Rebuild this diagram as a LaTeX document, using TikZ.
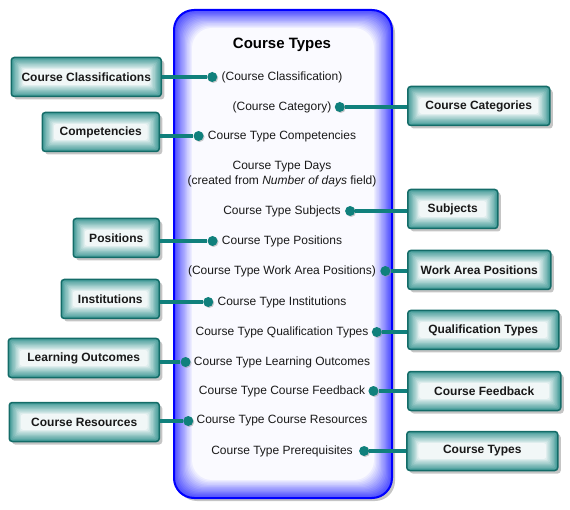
\documentclass[tikz,border=0pt]{standalone}
\usepackage{fontspec}
\setmainfont{Liberation Sans}
\usetikzlibrary{positioning, shadows}
\definecolor{tealc}{RGB}{16,128,124}
\definecolor{tealdark}{RGB}{20,108,104}
\tikzstyle{bigbox} = [rectangle, rounded corners=20pt, draw=blue, line width=2pt, fill=white, minimum width=218pt, minimum height=488pt, drop shadow={shadow xshift=3pt, shadow yshift=-3pt, fill=black!45, opacity=0.5}, path picture={\foreach \k in {0,...,15}{\pgfmathtruncatemacro\lvl{70-4.5*\k}\fill[blue!\lvl!white, rounded corners=20pt] ([shift={(\k*1.2pt,-\k*1.2pt)}]path picture bounding box.north west) rectangle ([shift={(-\k*1.2pt,\k*1.2pt)}]path picture bounding box.south east);}}]
\tikzstyle{tealbox} = [rectangle, rounded corners=3pt, draw=tealdark, line width=1.5pt, minimum height=39pt, font=\bfseries\fontsize{12}{14}\selectfont, text=black!90, drop shadow={shadow xshift=3pt, shadow yshift=-3pt, fill=black!45, opacity=0.5}, path picture={\foreach \k in {0,...,9}{\pgfmathtruncatemacro\lvl{78-8*\k}\fill[tealc!\lvl!white, rounded corners=2pt] ([shift={(\k*1.3pt,-\k*1.3pt)}]path picture bounding box.north west) rectangle ([shift={(-\k*1.3pt,\k*1.3pt)}]path picture bounding box.south east);}}]
\tikzstyle{item} = [font=\fontsize{12}{15}\selectfont, text=black!90, inner sep=0pt]
\tikzstyle{dot} = [circle, fill=tealc, minimum size=10pt, inner sep=0pt, drop shadow={shadow xshift=1pt, shadow yshift=-1pt, fill=black!40, opacity=0.5}]
\tikzstyle{link} = [draw=tealc, line width=4.5pt]

\begin{document}
\begin{tikzpicture}[x=1pt, y=-1pt]
  \useasboundingbox (0,0) rectangle (570,510);
  \node (ctbox) [bigbox] at (283,254) {};
  \node (title) [font=\bfseries\fontsize{15}{18}\selectfont] at (282,45) {Course Types};

  \node (cls) [item] at (282,77) {(Course Classification)};
  \node (cat) [item] at (282,107) {(Course Category)};
  \node (comp) [item] at (282,136) {Course Type Competencies};
  \node (days) [item, align=center] at (282,174) {Course Type Days\\(created from \textit{Number of days} field)};
  \node (subj) [item] at (282,211) {Course Type Subjects};
  \node (pos) [item] at (282,241) {Course Type Positions};
  \node (work) [item] at (282,271) {(Course Type Work Area Positions)};
  \node (inst) [item] at (282,302) {Course Type Institutions};
  \node (qual) [item] at (282,332) {Course Type Qualification Types};
  \node (learn) [item] at (282,362) {Course Type Learning Outcomes};
  \node (feed) [item] at (282,391) {Course Type Course Feedback};
  \node (res) [item] at (282,421) {Course Type Course Resources};
  \node (prereq) [item] at (282,451) {Course Type Prerequisites};

  % left side
  \node (Bcls) [tealbox, minimum width=150pt, anchor=east] at (162,77) {Course Classifications};
  \node (Bcomp) [tealbox, minimum width=117pt, anchor=east] at (160,132) {Competencies};
  \node (Bpos) [tealbox, minimum width=86pt, anchor=east] at (160,238) {Positions};
  \node (Binst) [tealbox, minimum width=98pt, anchor=east] at (160,299) {Institutions};
  \node (Blearn) [tealbox, minimum width=151pt, anchor=east] at (160,358) {Learning Outcomes};
  \node (Bres) [tealbox, minimum width=150pt, anchor=east] at (160,422) {Course Resources};

  % right side
  \node (Bcat) [tealbox, minimum width=142pt, anchor=west] at (407,106) {Course Categories};
  \node (Bsubj) [tealbox, minimum width=90pt, anchor=west] at (407,209) {Subjects};
  \node (Bwork) [tealbox, minimum width=143pt, anchor=west] at (407,270) {Work Area Positions};
  \node (Bqual) [tealbox, minimum width=151pt, anchor=west] at (407,330) {Qualification Types};
  \node (Bfeed) [tealbox, minimum width=153pt, anchor=west] at (407,391) {Course Feedback};
  \node (Btypes) [tealbox, minimum width=151pt, anchor=west] at (406,451) {Course Types};

  \node (dcls) [dot, left=4pt of cls] {};
  \node (dcomp) [dot, left=4pt of comp] {};
  \node (dpos) [dot, left=4pt of pos] {};
  \node (dinst) [dot, left=4pt of inst] {};
  \node (dlearn) [dot, left=3pt of learn] {};
  \node (dres) [dot, left=3pt of res] {};
  \node (dcat) [dot, right=3pt of cat] {};
  \node (dsubj) [dot, right=4pt of subj] {};
  \node (dwork) [dot, right=4pt of work] {};
  \node (dqual) [dot, right=3pt of qual] {};
  \node (dfeed) [dot, right=3pt of feed] {};
  \node (dprereq) [dot, right=6pt of prereq] {};

  \draw [link] (dcls) -- (dcls -| Bcls.east);
  \draw [link] (dcomp) -- (dcomp -| Bcomp.east);
  \draw [link] (dpos) -- (dpos -| Bpos.east);
  \draw [link] (dinst) -- (dinst -| Binst.east);
  \draw [link] (dlearn) -- (dlearn -| Blearn.east);
  \draw [link] (dres) -- (dres -| Bres.east);
  \draw [link] (dcat) -- (dcat -| Bcat.west);
  \draw [link] (dsubj) -- (dsubj -| Bsubj.west);
  \draw [link] (dwork) -- (dwork -| Bwork.west);
  \draw [link] (dqual) -- (dqual -| Bqual.west);
  \draw [link] (dfeed) -- (dfeed -| Bfeed.west);
  \draw [link] (dprereq) -- (dprereq -| Btypes.west);
\end{tikzpicture}
\end{document}
